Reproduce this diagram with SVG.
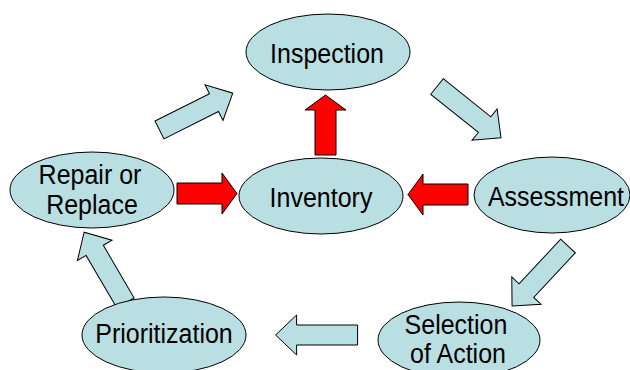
<svg xmlns="http://www.w3.org/2000/svg" width="630" height="370" viewBox="0 0 630 370">
<style>
.node{fill:#B9DFE3;stroke:#000;stroke-width:1}
.lbl{font-family:"Liberation Sans",Arial,sans-serif;font-size:25px;fill:#000;text-anchor:middle}
.blue{fill:#B9DFE3;stroke:#000;stroke-width:1;stroke-linejoin:miter}
.red{fill:#FF0000;stroke:#000;stroke-width:1}
</style>
<defs>
<path id="barrow" d="M0,-10 H61 V-20 L82,0 L61,20 V10 H0 Z"/>
<path id="rarrow" d="M0,-10.5 H45 V-20.5 L60,0 L45,20.5 V10.5 H0 Z"/>
</defs>
<rect width="630" height="370" fill="#fff"/>
<g id="connectors">
<use href="#barrow" class="blue" transform="translate(159.5,130) rotate(-26.7)"/>
<use href="#barrow" class="blue" transform="translate(437,86.5) rotate(38.7)"/>
<use href="#barrow" class="blue" transform="translate(568,246) rotate(133)"/>
<use href="#barrow" class="blue" transform="translate(357.6,335) rotate(180)"/>
<use href="#barrow" class="blue" transform="translate(125.5,303) rotate(-120.3)"/>
<use href="#rarrow" class="red" transform="translate(177,193.5)"/>
<use href="#rarrow" class="red" transform="translate(468,194.5) rotate(180)"/>
<use href="#rarrow" class="red" transform="translate(325.5,155) rotate(-90)"/>
</g>
<g id="inspection">
<ellipse class="node" cx="328" cy="52" rx="82" ry="38"/>
<text class="lbl" transform="translate(327,63) scale(1,1.12)">Inspection</text>
</g>
<g id="repair">
<ellipse class="node" cx="92" cy="190" rx="82" ry="38"/>
<text class="lbl" transform="translate(90,184) scale(1,1.12)">Repair or</text>
<text class="lbl" transform="translate(92,214) scale(1,1.12)">Replace</text>
</g>
<g id="inventory">
<ellipse class="node" cx="321" cy="196" rx="82" ry="38"/>
<text class="lbl" transform="translate(321,207) scale(1,1.12)">Inventory</text>
</g>
<g id="assessment">
<ellipse class="node" cx="552" cy="195" rx="78" ry="38"/>
<text class="lbl" transform="translate(556,206) scale(1,1.12)">Assessment</text>
</g>
<g id="prioritization">
<ellipse class="node" cx="164" cy="335" rx="82" ry="38"/>
<text class="lbl" transform="translate(164,343) scale(1,1.12)">Prioritization</text>
</g>
<g id="selection">
<ellipse class="node" cx="459" cy="340" rx="81" ry="38"/>
<text class="lbl" transform="translate(456,334) scale(1,1.12)">Selection</text>
<text class="lbl" transform="translate(458,363) scale(1,1.12)">of Action</text>
</g>
</svg>
